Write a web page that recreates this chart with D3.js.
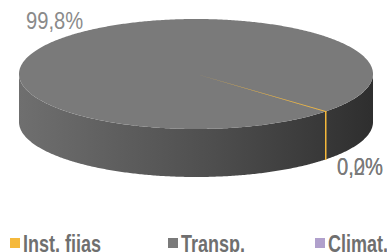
<!DOCTYPE html>
<html>
<head>
<meta charset="utf-8">
<script src="https://cdn.jsdelivr.net/npm/d3@7"></script>
<style>
  body { margin: 0; background: #fff; overflow: hidden; }
  text { font-family: "Liberation Sans", Arial, sans-serif; }
</style>
</head>
<body>
<div id="chart"></div>
<script>
// data
var categories = ["Inst. fijas", "Transp.", "Climat."];
var values = [0.2, 99.8, 0.0];
var labels = ["0,2%", "99,8%", "0,0%"];
var colors = ["#F5B93C", "#7A7A7A", "#B0A0CC"];

var w = 387, h = 252;
var cx = 196, cy = 74, rx = 177, ry = 55, depth = 48;
var start = 132.5 * Math.PI / 180;

var svg = d3.select("#chart").append("svg")
  .attr("width", w).attr("height", h);

var defs = svg.append("defs");
var grad = defs.append("linearGradient").attr("id", "side")
  .attr("gradientUnits", "userSpaceOnUse")
  .attr("x1", cx - rx).attr("x2", cx + rx).attr("y1", 0).attr("y2", 0);
grad.append("stop").attr("offset", "0%").attr("stop-color", "#6f6f6f");
grad.append("stop").attr("offset", "55%").attr("stop-color", "#4e4e4e");
grad.append("stop").attr("offset", "100%").attr("stop-color", "#2e2e2e");

var pie = d3.pie().sort(null).value(function(d){ return d; })
  .startAngle(start).endAngle(start + 2 * Math.PI);
var arcs = pie(values);

// punto de la elipse, angulo desde las 12 en sentido horario
function pt(a, dy) {
  return [cx + rx * Math.sin(a), cy - ry * Math.cos(a) + (dy || 0)];
}
function arcPts(a0, a1, dy) {
  var n = Math.max(2, Math.ceil(Math.abs(a1 - a0) / 0.01));
  return d3.range(n + 1).map(function(i){ return pt(a0 + (a1 - a0) * i / n, dy); });
}
var line = d3.line();

// paredes laterales (solo la mitad delantera: pi/2 .. 3pi/2)
function sidePieces(a0, a1) {
  var out = [];
  for (var k = -1; k <= 1; k++) {
    var lo = Math.PI / 2 + k * 2 * Math.PI, hi = 3 * Math.PI / 2 + k * 2 * Math.PI;
    var s = Math.max(a0, lo), e = Math.min(a1, hi);
    if (e > s) out.push([s, e]);
  }
  return out;
}

var sides = svg.append("g");
arcs.forEach(function(d, i){
  if (d.endAngle <= d.startAngle) return;
  sidePieces(d.startAngle, d.endAngle).forEach(function(p){
    var pts = arcPts(p[0], p[1], 0).concat(arcPts(p[1], p[0], depth));
    sides.append("path")
      .attr("d", line(pts) + "Z")
      .attr("fill", i == 1 ? "url(#side)" : colors[i])
      .attr("stroke", i == 1 ? "none" : colors[i])
      .attr("stroke-width", i == 1 ? 0 : 1);
  });
});

// caras superiores
var tops = svg.append("g");
arcs.forEach(function(d, i){
  if (d.endAngle <= d.startAngle) return;
  var pts = [[cx, cy]].concat(arcPts(d.startAngle, d.endAngle, 0));
  tops.append("path")
    .attr("d", line(pts) + "Z")
    .attr("fill", colors[i])
    .attr("stroke", i == 1 ? "none" : colors[i])
    .attr("stroke-width", i == 1 ? 0 : 1);
});

// etiquetas de datos
function label(x, y, t, col) {
  svg.append("text")
    .attr("transform", "translate(" + x + "," + y + ") scale(0.84,1)")
    .attr("font-size", 24).attr("fill", col).text(t);
}
label(26, 29, labels[1], "#8a8a8a");
label(337, 175, labels[0], "#7a7a7a");
label(337, 175, labels[2], "#7a7a7a");

// leyenda
var legX = [10, 168, 315];
var leg = svg.append("g").selectAll("g").data(categories).enter().append("g")
  .attr("transform", function(d, i){ return "translate(" + legX[i] + ",238)"; });
leg.append("rect").attr("width", 10).attr("height", 10)
  .attr("fill", function(d, i){ return colors[i]; });
leg.append("text")
  .attr("transform", "translate(13,14) scale(0.75,1)")
  .attr("font-size", 24).attr("font-weight", "bold")
  .attr("fill", "#6f6f6f").text(function(d){ return d; });
</script>
</body>
</html>
